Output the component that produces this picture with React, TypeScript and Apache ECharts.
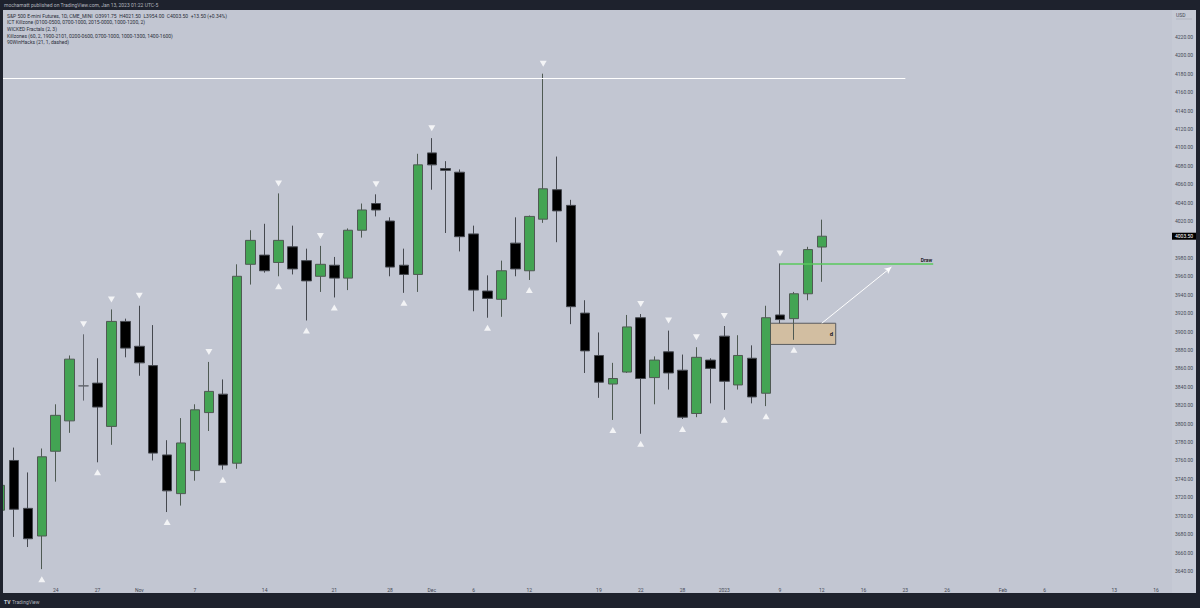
import React, { useEffect, useRef } from 'react';
import * as echarts from 'echarts';

// Trading days shown (Oct 18 2022 .. Jan 12 2023)
const barDates = [
  '2022-10-18', '2022-10-19', '2022-10-20', '2022-10-21', '2022-10-24', '2022-10-25', '2022-10-26', '2022-10-27', '2022-10-28', '2022-10-31',
  '2022-11-01', '2022-11-02', '2022-11-03', '2022-11-04', '2022-11-07', '2022-11-08', '2022-11-09', '2022-11-10', '2022-11-11', '2022-11-14',
  '2022-11-15', '2022-11-16', '2022-11-17', '2022-11-18', '2022-11-21', '2022-11-22', '2022-11-23', '2022-11-25', '2022-11-28', '2022-11-29',
  '2022-11-30', '2022-12-01', '2022-12-02', '2022-12-05', '2022-12-06', '2022-12-07', '2022-12-08', '2022-12-09', '2022-12-12', '2022-12-13',
  '2022-12-14', '2022-12-15', '2022-12-16', '2022-12-19', '2022-12-20', '2022-12-21', '2022-12-22', '2022-12-23', '2022-12-27', '2022-12-28',
  '2022-12-29', '2022-12-30', '2023-01-03', '2023-01-04', '2023-01-05', '2023-01-06', '2023-01-09', '2023-01-10', '2023-01-11', '2023-01-12',
];
const opens = [
  3706, 3760, 3708, 3678, 3770, 3803, 3841, 3844, 3797, 3911,
  3884, 3863, 3766, 3724, 3749, 3812, 3832, 3757, 3973, 3983,
  3975, 3992, 3977, 3960, 3972, 3958, 4010, 4039, 4020, 3972,
  3962, 4094, 4077, 4073, 4006, 3944, 3935, 3996, 3966, 4022,
  4054, 4037, 3920, 3874, 3843, 3856, 3915, 3850, 3878, 3858,
  3811, 3869, 3895, 3842, 3871, 3833, 3918, 3914, 3941, 3991.75,
];
const closes = [
  3733, 3707, 3675, 3764, 3809, 3870, 3841, 3818, 3911, 3882,
  3866, 3768, 3727, 3779, 3815, 3835, 3755, 3960, 3999, 3966,
  3999, 3968, 3955, 3973, 3958, 4010, 4032, 4032, 3970, 3962,
  4081, 4081, 4075, 4003, 3945, 3936, 3966, 3968, 4025, 4055,
  4031, 3927, 3879, 3845, 3849, 3905, 3849, 3869, 3855, 3807,
  3872, 3860, 3846, 3874, 3829, 3915, 3913, 3941, 3989, 4003.5,
];
const lows = [
  3700, 3677, 3666, 3642, 3737, 3790, 3825, 3758, 3777, 3872,
  3852, 3760, 3704, 3711, 3738, 3792, 3750, 3751, 3951, 3964,
  3960, 3962, 3912, 3943, 3937, 3945, 4002, 4025, 3960, 3942,
  3943, 4054, 4007, 3987, 3922, 3915, 3916, 3960, 3956, 4018,
  3997, 3908, 3855, 3828, 3804, 3855, 3789, 3821, 3837, 3805,
  3807, 3822, 3815, 3837, 3822, 3819, 3909, 3891, 3934, 3954,
];
const highs = [
  3740, 3774, 3747, 3773, 3821, 3874, 3897, 3871, 3924, 3914,
  3928, 3907, 3782, 3806, 3821, 3867, 3848, 3973, 4010, 4017,
  4050, 4015, 3990, 3993, 3981, 4012, 4039, 4049, 4024, 3990,
  4093, 4110, 4085, 4076, 4015, 3961, 3977, 4024, 4026, 4180,
  4090, 4043, 3934, 3899, 3866, 3918, 3919, 3873, 3901, 3875,
  3883, 3871, 3906, 3896, 3885, 3928, 3974, 3943, 3992, 4021.5,
];
const futureSlots = 25;

// Fractal marks (bar indices)
const fractalHighBars = [6, 8, 10, 15, 20, 23, 27, 31, 39, 46, 48, 50, 52, 56];
const fractalLowBars = [3, 7, 12, 16, 20, 22, 24, 29, 35, 38, 44, 46, 49, 52, 55, 57];

// Time-scale labels (category index -> text)
const tickIndex = [4, 7, 10, 14, 19, 24, 28, 31, 34, 38, 43, 46, 49, 52, 56, 59, 62, 65, 68, 72, 75, 80, 83];
const tickText = ['24', '27', 'Nov', '7', '14', '21', '28', 'Dec', '6', '12', '19', '22', '28', '2023', '9', '12', '16', '23', '26', 'Feb', '6', '13', '16'];

// Price-scale labels
const priceTop = 4220;
const priceBottom = 3640;
const priceHidden = [4000]; // covered by the last-price tag

// Drawings
const whiteLevel = 4175;
const whiteLevelSpan = [0, 65];
const drawBar = 56;
const drawSpan = [56, 67];
const zoneSpan = [55, 60];
const zonePrices = [3909, 3886];
const arrowFrom = [59, 3909];
const arrowTo = [64, 3970];

const headerText = 'mochamatt published on TradingView.com, Jan 13, 2023 01:22 UTC-5';
const legendLines = [
  'S&P 500 E-mini Futures, 1D, CME_MINI  O3991.75  H4021.50  L3954.00  C4003.50  +13.50 (+0.34%)',
  'ICT Killzone (0100-0500, 0700-1000, 2015-0000, 1000-1200, 2)',
  'WICKED Fractals (2, 3)',
  'Killzones (60, 2, 1900-2101, 0200-0600, 0700-1000, 1000-1300, 1400-1600)',
  '90WinHacks (21, 1, dashed)',
];

const FONT = 'Roboto, "DejaVu Sans", sans-serif';
const FRAME = '#1e222d';
const PANEL = '#c2c6d2';
const DRAW_GREEN = '#58c95c';

export default function App() {
  const ref = useRef<HTMLDivElement>(null);

  useEffect(() => {
    if (!ref.current) return;
    const chart = echarts.init(ref.current, undefined, { renderer: 'svg' });

    const categories = barDates.concat(Array.from({ length: futureSlots }, (_, i) => 'f' + (i + 1)));
    const candles = barDates.map((_, i) => [opens[i], closes[i], lows[i], highs[i]]);
    const tickMap: Record<number, string> = {};
    tickIndex.forEach((k, i) => (tickMap[k] = tickText[i]));
    const lastClose = closes[closes.length - 1];

    const legendGraphics = legendLines.map((t, i) => ({
      type: 'text',
      x: 7,
      y: 15.7 + i * 6.6,
      z: 100,
      style: { text: t, fill: '#2a2e39', font: `5px ${FONT}`, verticalAlign: 'middle' },
    }));

    chart.setOption({
      animation: false,
      backgroundColor: PANEL,
      grid: { left: 0, right: 30, top: 0, bottom: 18.6, containLabel: false },
      xAxis: {
        type: 'category',
        data: categories,
        boundaryGap: false,
        axisLine: { show: false },
        axisTick: { show: false },
        splitLine: { show: false },
        axisLabel: {
          interval: (i: number) => tickMap[i] !== undefined,
          formatter: (_v: string, i: number) => tickMap[i] ?? '',
          fontSize: 5,
          fontFamily: FONT,
          color: '#454954',
          margin: -2,
        },
      },
      yAxis: {
        type: 'value',
        position: 'right',
        min: 3620,
        max: 4260,
        interval: 20,
        axisLine: { show: false },
        axisTick: { show: false },
        splitLine: { show: false },
        axisLabel: {
          formatter: (v: number) =>
            v <= priceTop && v >= priceBottom && priceHidden.indexOf(v) < 0 ? v.toFixed(2) : '',
          fontSize: 5,
          fontFamily: FONT,
          color: '#454954',
          margin: 5,
        },
      },
      series: [
        {
          type: 'candlestick',
          data: candles,
          barWidth: 10,
          clip: false,
          itemStyle: {
            color: '#43a453',
            color0: '#000000',
            borderColor: '#4f5a53',
            borderColor0: '#45484f',
            borderColorDoji: '#62656d',
            borderWidth: 1,
          },
          markLine: {
            silent: true,
            symbol: ['none', 'none'],
            animation: false,
            data: [
              [
                { coord: [whiteLevelSpan[0], whiteLevel], lineStyle: { color: '#ffffff', width: 1, type: 'solid' }, label: { show: false } },
                { coord: [whiteLevelSpan[1], whiteLevel] },
              ],
              [
                {
                  coord: [drawSpan[0], highs[drawBar]],
                  lineStyle: { color: DRAW_GREEN, width: 1.5, type: 'solid', opacity: 1 },
                  label: { show: true, formatter: 'Draw', position: 'insideEndTop', distance: 1, fontSize: 5, fontWeight: 'bold', fontFamily: FONT, color: '#1f2329' },
                },
                { coord: [drawSpan[1], highs[drawBar]], lineStyle: { color: DRAW_GREEN, width: 1.5, type: 'solid', opacity: 1 } },
              ],
              [
                {
                  coord: arrowFrom,
                  symbol: 'none',
                  lineStyle: { color: '#ffffff', width: 1, type: 'solid' },
                  label: { show: false },
                },
                { coord: arrowTo, symbol: 'arrow', symbolSize: [5, 7] },
              ],
              {
                yAxis: lastClose,
                lineStyle: { color: 'rgba(0,0,0,0)', width: 0, opacity: 1 },
                label: {
                  show: true,
                  position: 'end',
                  distance: 2,
                  formatter: lastClose.toFixed(2),
                  backgroundColor: '#000000',
                  color: '#ffffff',
                  opacity: 1,
                  padding: [1, 3, 1, 3],
                  fontSize: 5,
                  fontFamily: FONT,
                },
              },
            ],
          },
          markArea: {
            silent: true,
            data: [
              [
                {
                  coord: [zoneSpan[0], zonePrices[0]],
                  itemStyle: { color: 'rgba(226, 182, 112, 0.5)', borderColor: '#5a5c60', borderWidth: 1 },
                  label: { show: true, formatter: 'd', position: 'insideRight', distance: 3, fontSize: 6, fontWeight: 'bold', fontFamily: FONT, color: '#1f2329' },
                },
                { coord: [zoneSpan[1], zonePrices[1]] },
              ],
            ],
          },
        },
        {
          type: 'scatter',
          data: fractalHighBars.map((b) => [b, highs[b]]),
          symbol: 'triangle',
          symbolSize: [7, 6],
          symbolRotate: 180,
          symbolOffset: [0, -10],
          itemStyle: { color: '#ffffff' },
          z: 3,
          silent: true,
        },
        {
          type: 'scatter',
          data: fractalLowBars.map((b) => [b, lows[b]]),
          symbol: 'triangle',
          symbolSize: [7, 6],
          symbolOffset: [0, 10],
          itemStyle: { color: '#ffffff' },
          z: 3,
          silent: true,
        },
      ],
      graphic: [
        { type: 'rect', shape: { x: 1172, y: 10, width: 24, height: 583 }, style: { fill: '#c6cad5' }, z: -1, silent: true },
        { type: 'rect', shape: { x: 0, y: 0, width: 1200, height: 10 }, style: { fill: FRAME }, z: 100, silent: true },
        { type: 'rect', shape: { x: 0, y: 0, width: 3, height: 608 }, style: { fill: FRAME }, z: 100, silent: true },
        { type: 'rect', shape: { x: 1196, y: 0, width: 4, height: 608 }, style: { fill: FRAME }, z: 100, silent: true },
        { type: 'rect', shape: { x: 0, y: 593, width: 1200, height: 15 }, style: { fill: FRAME }, z: 100, silent: true },
        {
          type: 'text', x: 4, y: 5, z: 101,
          style: { text: headerText, fill: '#b2b5be', font: `5px ${FONT}`, verticalAlign: 'middle' },
        },
        {
          type: 'text', x: 4, y: 602, z: 101,
          style: { text: 'TV', fill: '#d1d4dc', font: `bold 5px ${FONT}`, verticalAlign: 'middle' },
        },
        {
          type: 'text', x: 12, y: 602, z: 101,
          style: { text: 'TradingView', fill: '#b2b5be', font: `5px ${FONT}`, verticalAlign: 'middle' },
        },
        {
          type: 'text', x: 1176, y: 15, z: 101,
          style: { text: 'USD', fill: '#454954', font: `5px ${FONT}`, verticalAlign: 'middle' },
        },
        { type: 'line', shape: { x1: 1176, y1: 19, x2: 1192, y2: 19 }, style: { stroke: '#9a9ea8', lineWidth: 0.5 }, z: 101, silent: true },
        ...legendGraphics,
      ],
    });

    return () => chart.dispose();
  }, []);

  return <div ref={ref} style={{ position: 'absolute', left: 0, top: 0, width: 1200, height: 608 }} />;
}
